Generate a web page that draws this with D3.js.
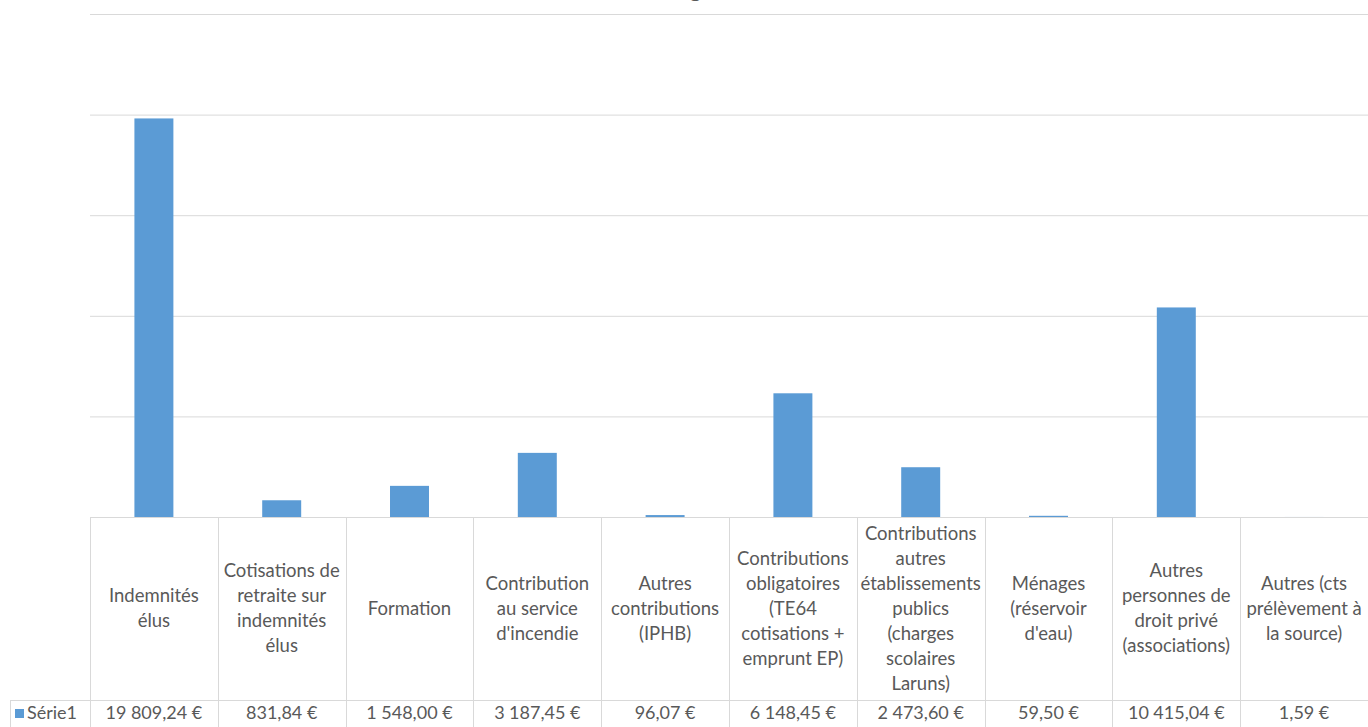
<!DOCTYPE html>
<html><head><meta charset="utf-8">
<script src="https://cdn.jsdelivr.net/npm/d3@7"></script>
<style>
html,body{margin:0;padding:0;background:#fff;overflow:hidden;}
svg{display:block;}
text{font-family:Lato,"Open Sans",sans-serif;fill:#595959;}
</style></head>
<body>
<svg id="chart" width="1368" height="727"></svg>
<script>
const title = "Frais de gestion";
const seriesName = "Série1";
const categories = [
  ["Indemnités","élus"],
  ["Cotisations de","retraite sur","indemnités","élus"],
  ["Formation"],
  ["Contribution","au service","d'incendie"],
  ["Autres","contributions","(IPHB)"],
  ["Contributions","obligatoires","(TE64","cotisations +","emprunt EP)"],
  ["Contributions","autres","établissements","publics","(charges","scolaires","Laruns)"],
  ["Ménages","(réservoir","d'eau)"],
  ["Autres","personnes de","droit privé","(associations)"],
  ["Autres (cts","prélèvement à","la source)"]
];
const values = [19809.24, 831.84, 1548.00, 3187.45, 96.07, 6148.45, 2473.60, 59.50, 10415.04, 1.59];
const yTicks = [0, 5000, 10000, 15000, 20000, 25000];

const svg = d3.select("#chart");
const plotLeft = 90, plotRight = 1368, plotTop = 14, baseY = 517, rowY = 700, bottomY = 740;
const ids = categories.map((c,i)=>i);
const x = d3.scaleBand().domain(ids).range([plotLeft, plotRight]).paddingInner(0).paddingOuter(0);
const y = d3.scaleLinear().domain([0, 25000]).range([baseY, plotTop]);

const fr = d3.formatLocale({decimal:",", thousands:"\u202F", grouping:[3], currency:[""," €"]});
const fmt = v => fr.format(",.2f")(v) + " €";

// title (cut off at top edge, as in the reference)
svg.append("text").attr("x", 684).attr("y", -3).attr("text-anchor","middle")
  .style("font-size","24px").style("fill","#595959").text(title);

// gridlines
svg.append("g").selectAll("line").data(yTicks.filter(t=>t>0)).join("line")
  .attr("x1", plotLeft).attr("x2", plotRight)
  .attr("y1", d=>y(d)+0.5).attr("y2", d=>y(d)+0.5)
  .attr("stroke","#d9d9d9").attr("stroke-width",1);

// bars
const bw = x.bandwidth()*0.305;
svg.append("g").selectAll("rect").data(values).join("rect")
  .attr("x", (d,i)=>x(i)+x.bandwidth()/2-bw/2)
  .attr("width", bw)
  .attr("y", d=>y(d))
  .attr("height", d=>baseY-y(d))
  .attr("fill","#5b9bd5");

// data table lines
const tl = svg.append("g").attr("stroke","#d9d9d9").attr("stroke-width",1);
tl.append("line").attr("x1",plotLeft).attr("x2",plotRight).attr("y1",baseY+0.5).attr("y2",baseY+0.5);
tl.append("line").attr("x1",10).attr("x2",plotRight).attr("y1",rowY+0.5).attr("y2",rowY+0.5);
tl.append("line").attr("x1",10.5).attr("x2",10.5).attr("y1",rowY).attr("y2",bottomY);
const bounds = ids.map(i=>x(i)).concat([plotRight]);
tl.selectAll("line.v").data(bounds).join("line").attr("class","v")
  .attr("x1",d=>Math.round(d)+0.5).attr("x2",d=>Math.round(d)+0.5)
  .attr("y1",baseY).attr("y2",bottomY);

// category labels
const lh = 25;
const cg = svg.append("g");
categories.forEach((lines,i)=>{
  const cx = x(i)+x.bandwidth()/2;
  const cy = (baseY+rowY)/2;
  const startY = cy - (lines.length-1)*lh/2;
  const t = cg.append("text").attr("text-anchor","middle").style("font-size","18.5px");
  lines.forEach((ln,j)=>{
    t.append("tspan").attr("x",cx).attr("y",startY+j*lh).attr("dy","0.35em").text(ln);
  });
});

// values row
svg.append("g").selectAll("text").data(values).join("text")
  .attr("x",(d,i)=>x(i)+x.bandwidth()/2).attr("y",713).attr("dy","0.35em")
  .attr("text-anchor","middle").style("font-size","18px").text(d=>fmt(d));

// legend key
svg.append("rect").attr("x",15).attr("y",709).attr("width",9).attr("height",9).attr("fill","#5b9bd5");
svg.append("text").attr("x",27).attr("y",713).attr("dy","0.35em").style("font-size","18px").text(seriesName);
</script>
</body></html>
